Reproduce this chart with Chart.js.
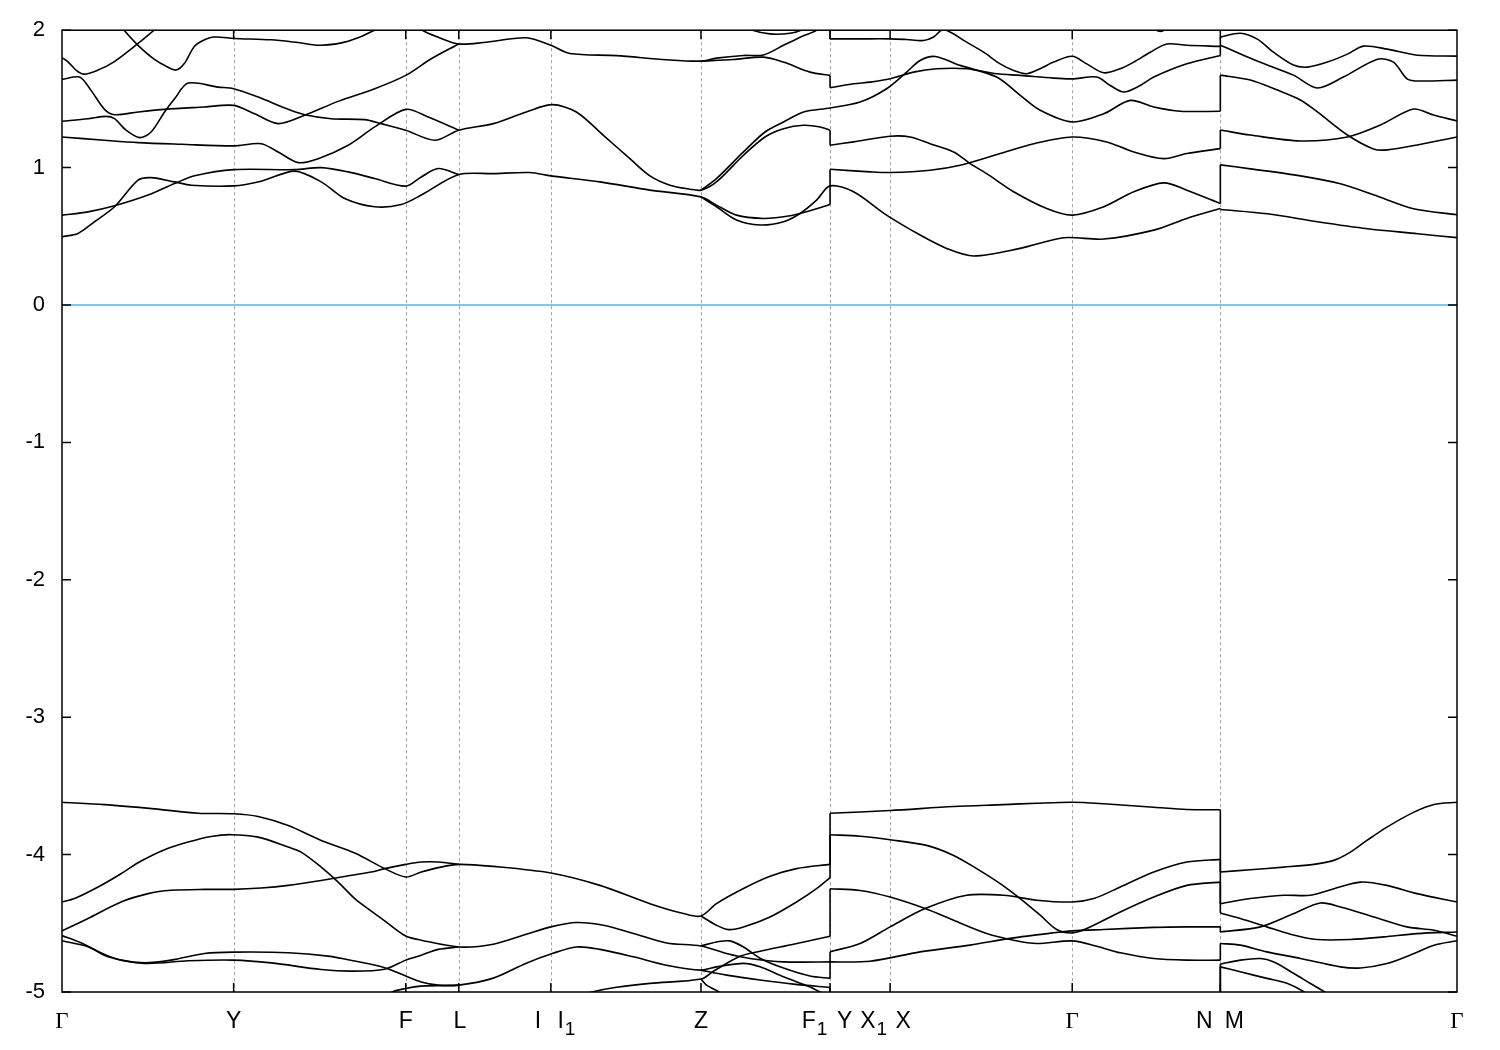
<!DOCTYPE html>
<html>
<head>
<meta charset="utf-8">
<title>Band structure</title>
<style type="text/css">
  html, body { margin: 0; padding: 0; background: #fff; }
  #chart-container { width: 1500px; height: 1050px; }
</style>
</head>
<body>
<div id="chart-container">
  <canvas id="mycanvas" width="1500" height="1050"></canvas>
</div>
<script src="https://cdn.jsdelivr.net/npm/chart.js@4.4.1/dist/chart.umd.min.js"></script>
<script>
// high-symmetry points along the k-path (dashed lines)
var kNodes = [0, 1.715, 3.435, 3.965, 4.885, 6.385, 7.675, 8.275, 10.095, 11.575, 13.94];
// tick labels (base letter, subscript) and where they sit on the k-axis
var tickNames = ['Γ', 'Y', 'F', 'L', 'I', 'I', 'Z', 'F', 'Y', 'X', 'X', 'Γ', 'N', 'M', 'Γ'];
var tickSubs = ['', '', '', '', '', '1', '', '1', '', '1', '', '', '', '', ''];
var tickPos = [0, 1.715, 3.435, 3.975, 4.755, 5.04, 6.385, 7.52, 7.82, 8.11, 8.405, 10.095, 11.415, 11.715, 13.94];

// bands, [k, E(eV)]; two points at the same k = jump at a path break
var cb1 = [[0,1.80],[0.06,1.77],[0.14,1.71],[0.22,1.68],[0.36,1.71],[0.52,1.77],[0.72,1.88],[0.92,2.0],[1.1,2.12]];
var cb2 = [[0.47,2.13],[0.62,2.0],[0.76,1.89],[0.92,1.79],[1.06,1.73],[1.14,1.71],[1.22,1.755],[1.32,1.88],[1.41,1.925],[1.52,1.95],[1.72,1.94],[2.09,1.93],[2.36,1.91],[2.59,1.89],[2.86,1.92],[3.12,2.0],[3.35,2.12],[3.6,2.0],[3.755,1.95],[3.965,1.90],[4.21,1.91],[4.64,1.945],[4.885,1.89],[5.075,1.83],[5.54,1.815],[6.04,1.785],[6.385,1.775],[6.54,1.797],[6.81,1.816],[7.01,1.82],[7.21,1.89],[7.41,1.96],[7.54,2.0],[7.675,2.12],[7.675,1.937],[7.975,1.937],[8.275,1.937],[8.44,1.932],[8.61,1.925],[8.71,1.95],[8.81,2.005],[9.04,1.913],[9.21,1.84],[9.375,1.755],[9.51,1.707],[9.64,1.683],[9.775,1.72],[9.91,1.768],[10.095,1.81],[10.24,1.755],[10.41,1.69],[10.575,1.72],[10.71,1.768],[10.875,1.84],[11.04,1.90],[11.24,1.89],[11.575,1.882],[11.575,1.95],[11.775,1.978],[11.945,1.935],[12.105,1.84],[12.305,1.746],[12.445,1.731],[12.645,1.768],[12.845,1.826],[13.005,1.884],[13.245,1.862],[13.545,1.818],[13.94,1.811]];
var cb3 = [[0,1.642],[0.175,1.659],[0.29,1.562],[0.425,1.424],[0.525,1.385],[0.76,1.405],[1.025,1.424],[1.425,1.441],[1.715,1.453],[1.925,1.392],[2.16,1.32],[2.425,1.381],[2.76,1.482],[3.125,1.574],[3.435,1.671],[3.69,1.792],[3.965,1.90]];
var cb4 = [[6.385,1.775],[6.71,1.787],[7.01,1.804],[7.21,1.768],[7.475,1.695],[7.675,1.671],[7.675,1.581],[7.91,1.61],[8.075,1.622],[8.275,1.646],[8.51,1.695],[8.74,1.719],[9.04,1.719],[9.34,1.683],[9.575,1.671],[9.91,1.651],[10.095,1.646],[10.34,1.659],[10.475,1.598],[10.61,1.55],[10.775,1.598],[10.91,1.659],[11.24,1.755],[11.575,1.816],[11.575,1.891],[11.805,1.818],[12.045,1.746],[12.305,1.673],[12.545,1.579],[12.805,1.659],[13.145,1.789],[13.305,1.768],[13.445,1.644],[13.575,1.63],[13.94,1.637]];
var cb5 = [[0,1.337],[0.26,1.356],[0.44,1.373],[0.525,1.356],[0.64,1.272],[0.775,1.218],[0.89,1.259],[1.025,1.405],[1.125,1.501],[1.26,1.615],[1.56,1.586],[1.715,1.574],[1.96,1.513],[2.26,1.424],[2.425,1.385],[2.69,1.356],[3.025,1.349],[3.19,1.32],[3.435,1.272],[3.725,1.199],[3.965,1.272],[4.31,1.32],[4.64,1.405],[4.9,1.458],[5.14,1.405],[5.41,1.235],[5.675,1.065],[5.875,0.94],[6.075,0.872],[6.275,0.843],[6.385,0.836],[6.54,0.896],[6.81,1.09],[7.025,1.223],[7.21,1.283],[7.41,1.308],[7.575,1.296],[7.675,1.272],[7.675,1.163],[7.91,1.187],[8.275,1.228],[8.475,1.223],[8.675,1.174],[8.91,1.114],[9.075,1.029],[9.24,0.956],[9.51,0.824],[9.84,0.702],[10.095,0.654],[10.41,0.715],[10.71,0.824],[11.01,0.889],[11.24,0.836],[11.575,0.739],[11.575,1.02],[11.875,0.991],[12.375,0.94],[12.775,0.882],[13.105,0.802],[13.505,0.70],[13.94,0.657]];
var cb6 = [[0,1.223],[0.425,1.199],[0.76,1.182],[1.19,1.17],[1.715,1.158],[1.99,1.174],[2.16,1.114],[2.36,1.036],[2.56,1.065],[2.86,1.163],[3.125,1.296],[3.435,1.424],[3.66,1.368],[3.965,1.272]];
var cb7 = [[6.385,0.836],[6.54,0.92],[6.81,1.114],[7.025,1.259],[7.21,1.332],[7.41,1.405],[7.675,1.434],[7.975,1.477],[8.24,1.574],[8.44,1.695],[8.575,1.78],[8.725,1.809],[8.975,1.744],[9.34,1.659],[9.575,1.526],[9.775,1.417],[10.095,1.332],[10.41,1.392],[10.675,1.489],[10.91,1.441],[11.175,1.41],[11.575,1.41],[11.575,1.673],[11.875,1.637],[12.145,1.564],[12.375,1.492],[12.545,1.405],[12.845,1.237],[13.105,1.136],[13.245,1.129],[13.545,1.165],[13.94,1.223]];
var cb8 = [[0,0.654],[0.26,0.678],[0.525,0.722],[0.86,0.80],[1.125,0.884],[1.325,0.94],[1.715,0.985],[2.325,0.985],[2.59,1.0],[2.86,0.969],[3.125,0.92],[3.435,0.865],[3.59,0.932],[3.76,0.993],[3.965,0.949]];
var cb9 = [[0,0.497],[0.16,0.521],[0.325,0.606],[0.525,0.715],[0.76,0.908],[0.89,0.927],[1.125,0.896],[1.29,0.872],[1.715,0.867],[1.99,0.901],[2.325,0.974],[2.59,0.896],[2.825,0.775],[3.125,0.715],[3.39,0.731],[3.59,0.80],[3.965,0.949],[4.31,0.956],[4.675,0.964],[4.885,0.94],[5.375,0.896],[5.875,0.836],[6.385,0.787],[6.54,0.727],[6.74,0.654],[7.01,0.63],[7.21,0.642],[7.375,0.666],[7.675,0.731],[7.675,0.988],[8.075,0.969],[8.275,0.964],[8.675,0.981],[8.975,1.017],[9.375,1.102],[9.71,1.174],[10.095,1.223],[10.44,1.187],[10.71,1.114],[11.01,1.065],[11.24,1.102],[11.575,1.138],[11.575,1.274],[11.875,1.237],[12.375,1.194],[12.845,1.223],[13.175,1.31],[13.505,1.426],[13.705,1.383],[13.94,1.339]];
var cb10 = [[6.385,0.787],[6.54,0.715],[6.74,0.618],[6.975,0.582],[7.21,0.606],[7.375,0.666],[7.54,0.763],[7.675,0.867],[7.91,0.824],[8.24,0.654],[8.575,0.509],[8.84,0.412],[9.11,0.357],[9.575,0.412],[10.01,0.489],[10.41,0.48],[10.91,0.545],[11.24,0.63],[11.575,0.702],[11.575,0.695],[12.045,0.664],[12.545,0.606],[13.045,0.555],[13.545,0.519],[13.94,0.49]];
var cb11 = [[6.72,2.06],[6.875,2.005],[7.075,1.973],[7.275,1.978],[7.405,2.005],[7.525,2.06]];
var cb12 = [[10.83,2.06],[10.975,1.99],[11.125,2.06]];

var vb1 = [[0,-3.619],[0.425,-3.636],[0.925,-3.667],[1.36,-3.699],[1.715,-3.703],[1.96,-3.723],[2.26,-3.789],[2.59,-3.897],[2.925,-3.989],[3.225,-4.102],[3.435,-4.163],[3.59,-4.127],[3.76,-4.095],[3.965,-4.071],[4.31,-4.086],[4.885,-4.134],[5.375,-4.224],[5.875,-4.357],[6.21,-4.429],[6.385,-4.447],[6.54,-4.357],[6.81,-4.247],[7.075,-4.158],[7.34,-4.102],[7.675,-4.071],[7.675,-3.699],[8.275,-3.679],[8.91,-3.650],[9.41,-3.636],[9.74,-3.626],[10.095,-3.619],[10.41,-3.630],[10.91,-3.655],[11.24,-3.672],[11.575,-3.674],[11.575,-4.127],[11.875,-4.11],[12.21,-4.091],[12.51,-4.071],[12.71,-4.042],[12.875,-3.982],[13.04,-3.897],[13.24,-3.80],[13.51,-3.691],[13.71,-3.635],[13.94,-3.619]];
var vb2 = [[0,-4.555],[0.26,-4.465],[0.59,-4.345],[0.86,-4.284],[1.09,-4.26],[1.425,-4.253],[1.715,-4.253],[1.99,-4.243],[2.26,-4.224],[2.59,-4.188],[2.825,-4.159],[3.09,-4.127],[3.225,-4.102],[3.435,-4.071],[3.59,-4.054],[3.76,-4.054],[3.965,-4.071]];
var vb3 = [[0,-4.345],[0.125,-4.32],[0.36,-4.236],[0.59,-4.139],[0.79,-4.047],[1.025,-3.964],[1.26,-3.909],[1.49,-3.868],[1.69,-3.855],[1.96,-3.873],[2.26,-3.945],[2.39,-3.982],[2.59,-4.091],[2.76,-4.20],[2.925,-4.32],[3.125,-4.429],[3.26,-4.502],[3.435,-4.592],[3.59,-4.623],[3.965,-4.672],[4.31,-4.652],[4.64,-4.58],[4.885,-4.526],[5.14,-4.494],[5.41,-4.514],[5.71,-4.574],[6.04,-4.643],[6.385,-4.665],[6.64,-4.72],[6.875,-4.756],[7.21,-4.781],[7.675,-4.781],[8.075,-4.776],[8.575,-4.708],[9.075,-4.659],[9.475,-4.61],[9.91,-4.569],[10.095,-4.555],[10.41,-4.545],[10.91,-4.53],[11.24,-4.526],[11.575,-4.526],[11.575,-4.563],[11.975,-4.526],[12.31,-4.429],[12.575,-4.352],[12.775,-4.381],[13.11,-4.454],[13.44,-4.526],[13.71,-4.55],[13.94,-4.594]];
var vb4 = [[0,-4.627],[0.26,-4.671],[0.46,-4.743],[0.825,-4.792],[1.26,-4.773],[1.715,-4.768],[2.09,-4.788],[2.59,-4.836],[2.89,-4.848],[3.225,-4.834],[3.435,-4.768],[3.59,-4.732],[3.76,-4.69],[3.965,-4.672]];
var vb5 = [[0,-4.589],[0.19,-4.642],[0.425,-4.727],[0.59,-4.768],[0.825,-4.787],[1.09,-4.768],[1.425,-4.72],[1.715,-4.71],[2.26,-4.714],[2.66,-4.739],[2.925,-4.775],[3.225,-4.823],[3.435,-4.884],[3.59,-4.927],[3.76,-4.95],[3.965,-4.95],[4.31,-4.899],[4.64,-4.79],[4.9,-4.72],[5.14,-4.672],[5.375,-4.69],[5.71,-4.744],[6.04,-4.805],[6.385,-4.841],[6.54,-4.817],[6.81,-4.792],[6.975,-4.817],[7.21,-4.889],[7.475,-4.964],[7.625,-5.02]];
var vb6 = [[3.125,-5.095],[3.29,-5.003],[3.435,-4.974],[3.59,-4.957],[3.965,-4.95]];
var vb7 = [[6.385,-4.841],[6.64,-4.877],[6.975,-4.913],[7.31,-4.943],[7.675,-4.967],[7.675,-5.1]];
var vb8 = [[5.075,-5.044],[5.275,-5.003],[5.54,-4.966],[5.875,-4.937],[6.385,-4.906],[6.51,-4.849],[6.775,-4.74],[6.975,-4.703],[7.31,-4.652],[7.675,-4.594],[7.675,-4.248],[7.975,-4.261],[8.275,-4.309],[8.625,-4.393],[8.91,-4.478],[9.24,-4.574],[9.51,-4.623],[9.74,-4.647],[10.095,-4.628],[10.34,-4.667],[10.575,-4.715],[10.91,-4.756],[11.24,-4.768],[11.575,-4.768],[11.575,-4.647],[11.775,-4.659],[12.04,-4.708],[12.375,-4.756],[12.775,-4.817],[12.975,-4.825],[13.24,-4.793],[13.51,-4.72],[13.71,-4.659],[13.94,-4.627]];
var vb9 = [[6.385,-4.906],[6.44,-4.95],[6.56,-4.998],[6.625,-5.06]];
var vb10 = [[6.385,-4.665],[6.54,-4.636],[6.675,-4.628],[6.81,-4.672],[6.975,-4.754],[7.21,-4.826],[7.475,-4.884],[7.675,-4.901],[7.675,-4.707],[7.975,-4.647],[8.275,-4.526],[8.625,-4.393],[9.04,-4.296],[9.41,-4.296],[9.74,-4.332],[10.095,-4.345],[10.31,-4.32],[10.575,-4.236],[10.91,-4.127],[11.24,-4.054],[11.575,-4.035],[11.575,-4.357],[11.875,-4.32],[12.21,-4.296],[12.475,-4.296],[12.71,-4.248],[12.975,-4.2],[13.24,-4.224],[13.54,-4.284],[13.94,-4.345]];
var vb11 = [[6.385,-4.447],[6.54,-4.514],[6.66,-4.546],[6.81,-4.527],[7.075,-4.454],[7.34,-4.345],[7.54,-4.248],[7.675,-4.168],[7.675,-3.855],[7.975,-3.866],[8.275,-3.892],[8.64,-3.933],[8.91,-4.006],[9.14,-4.102],[9.375,-4.211],[9.575,-4.32],[9.775,-4.441],[9.94,-4.545],[10.095,-4.57],[10.24,-4.538],[10.575,-4.418],[10.91,-4.309],[11.24,-4.224],[11.575,-4.20],[11.575,-4.425],[11.775,-4.465],[12.04,-4.526],[12.275,-4.579],[12.54,-4.618],[12.875,-4.618],[13.21,-4.599],[13.54,-4.575],[13.94,-4.563]];
var vb12 = [[11.575,-5.1],[11.575,-4.797],[11.775,-4.768],[11.975,-4.756],[12.11,-4.781],[12.31,-4.865],[12.475,-4.938],[12.64,-5.01],[12.725,-5.06]];
var vb13 = [[11.575,-5.1],[11.575,-4.817],[11.775,-4.853],[12.04,-4.901],[12.24,-4.937],[12.41,-4.998],[12.475,-5.044]];

var bands = [cb1, cb2, cb3, cb4, cb5, cb6, cb7, cb8, cb9, cb10, cb11, cb12,
             vb1, vb2, vb3, vb4, vb5, vb6, vb7, vb8, vb9, vb10, vb11, vb12, vb13];
var fermi = [[0, 0], [13.94, 0]];

function toXY(pts) {
  return pts.map(function (p) { return {x: p[0], y: p[1]}; });
}

// cut each band at the path breaks: smooth runs + straight vertical jumps
var datasets = [];
bands.forEach(function (b) {
  var run = [b[0]];
  for (var i = 1; i < b.length; i++) {
    if (b[i][0] === b[i - 1][0]) {
      if (run.length > 1) datasets.push({data: toXY(run), tension: 0.3});
      datasets.push({data: toXY([b[i - 1], b[i]]), tension: 0});
      run = [b[i]];
    } else {
      run.push(b[i]);
    }
  }
  if (run.length > 1) datasets.push({data: toXY(run), tension: 0.3});
});
datasets.forEach(function (d) {
  d.borderColor = '#000';
  d.borderWidth = 1.6;
  d.pointRadius = 0;
  d.fill = false;
  d.clip = 0;
});
datasets.unshift({data: toXY(fermi), borderColor: '#56b4e9', borderWidth: 1.5, pointRadius: 0, fill: false, clip: 0});

var framePlugin = {
  id: 'frame',
  beforeDatasetsDraw: function (chart) {
    var ctx = chart.ctx, a = chart.chartArea, x = chart.scales.x;
    ctx.save();
    ctx.strokeStyle = '#a0a0a0';
    ctx.lineWidth = 1;
    ctx.setLineDash([3, 3]);
    kNodes.slice(1, -1).forEach(function (k) {
      var px = Math.round(x.getPixelForValue(k)) + 0.5;
      ctx.beginPath();
      ctx.moveTo(px, a.top);
      ctx.lineTo(px, a.bottom);
      ctx.stroke();
    });
    ctx.restore();
  },
  afterDatasetsDraw: function (chart) {
    var ctx = chart.ctx, a = chart.chartArea, x = chart.scales.x, y = chart.scales.y;
    var tl = 9;
    ctx.save();
    ctx.strokeStyle = '#000';
    ctx.lineWidth = 1.5;
    ctx.beginPath();
    kNodes.slice(1, -1).forEach(function (k) {
      var px = x.getPixelForValue(k);
      ctx.moveTo(px, a.bottom); ctx.lineTo(px, a.bottom - tl);
      ctx.moveTo(px, a.top); ctx.lineTo(px, a.top + tl);
    });
    y.ticks.forEach(function (t) {
      var py = y.getPixelForValue(t.value);
      ctx.moveTo(a.left, py); ctx.lineTo(a.left + tl, py);
      ctx.moveTo(a.right, py); ctx.lineTo(a.right - tl, py);
    });
    ctx.stroke();
    ctx.strokeRect(a.left, a.top, a.right - a.left, a.bottom - a.top);

    // k-point labels with lowered subscripts, gnuplot style
    var sans = '"Liberation Sans", Arial, sans-serif';
    var serif = '"Liberation Serif", serif';
    var base = a.bottom + 36;
    ctx.fillStyle = '#000';
    ctx.textBaseline = 'alphabetic';
    ctx.textAlign = 'left';
    tickNames.forEach(function (n, i) {
      var mainFont = (n === 'Γ' ? '23px ' + serif : '23px ' + sans);
      var subFont = '19px ' + sans;
      ctx.font = mainFont;
      var w1 = ctx.measureText(n).width;
      var w2 = 0;
      if (tickSubs[i]) { ctx.font = subFont; w2 = ctx.measureText(tickSubs[i]).width + 1; }
      var left = x.getPixelForValue(tickPos[i]) - (w1 + w2) / 2;
      ctx.font = mainFont;
      ctx.fillText(n, left, base);
      if (tickSubs[i]) {
        ctx.font = subFont;
        ctx.fillText(tickSubs[i], left + w1 + 1, base + 7);
      }
    });
    ctx.restore();
  }
};

var ctx = document.getElementById('mycanvas');
var bandChart = new Chart(ctx, {
  type: 'line',
  data: {datasets: datasets},
  options: {
    responsive: false,
    animation: false,
    layout: {padding: {top: 28, right: 43, left: 0, bottom: 0}},
    plugins: {legend: {display: false}, tooltip: {enabled: false}},
    scales: {
      x: {
        type: 'linear',
        min: 0,
        max: 13.94,
        afterBuildTicks: function (s) {
          s.ticks = tickPos.map(function (v) { return {value: v}; });
        },
        afterFit: function (s) { s.height = 58; },
        grid: {display: false, drawTicks: false},
        border: {display: false},
        ticks: {display: false, autoSkip: false, maxRotation: 0}
      },
      y: {
        min: -5,
        max: 2,
        afterFit: function (s) { s.width = 62; },
        grid: {display: false, drawTicks: false},
        border: {display: false},
        ticks: {
          stepSize: 1,
          padding: 17,
          color: '#000',
          font: {family: '"Liberation Sans", Arial, sans-serif', size: 22}
        }
      }
    }
  },
  plugins: [framePlugin]
});
</script>
</body>
</html>
